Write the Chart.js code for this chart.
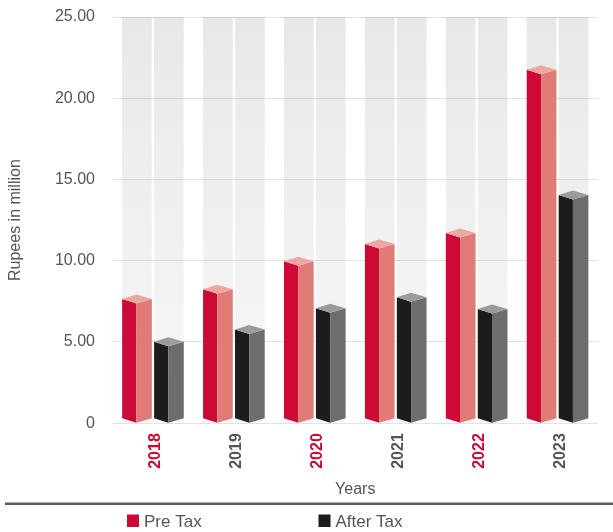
<!DOCTYPE html>
<html>
<head>
<meta charset="utf-8">
<script src="https://cdn.jsdelivr.net/npm/chart.js@4.4.0/dist/chart.umd.min.js"></script>
<style>
  html, body { margin: 0; padding: 0; background: #ffffff; }
  #wrap { width: 613px; height: 532px; position: relative; }
</style>
</head>
<body>
<div id="wrap"><canvas id="c"></canvas></div>
<script>
// ---- data ----
const years = ['2018', '2019', '2020', '2021', '2022', '2023'];
const preTax = [7.65, 8.24, 9.97, 11.03, 11.71, 21.75];
const afterTax = [5.02, 5.77, 7.07, 7.75, 7.03, 14.05];
const seriesNames = ['Pre Tax', 'After Tax'];
const yMin = 0, yMax = 25, yStep = 5;

const CRIMSON = '#cc0a35';
const GRAY_TEXT = '#555555';
const FONT = '"Liberation Sans", Arial, Helvetica, sans-serif';

Chart.defaults.font.family = FONT;
Chart.defaults.color = GRAY_TEXT;

function drawBox(ctx, x0, x1, yTop, base, d, cFront, cSide, cTop) {
  const xc = x0 + (x1 - x0) * 0.48;
  ctx.fillStyle = cFront;
  ctx.beginPath();
  ctx.moveTo(x0, yTop);
  ctx.lineTo(xc, yTop + d);
  ctx.lineTo(xc, base);
  ctx.lineTo(x0, base - d);
  ctx.closePath();
  ctx.fill();
  ctx.fillStyle = cSide;
  ctx.beginPath();
  ctx.moveTo(xc, yTop + d);
  ctx.lineTo(x1, yTop);
  ctx.lineTo(x1, base - d);
  ctx.lineTo(xc, base);
  ctx.closePath();
  ctx.fill();
  ctx.fillStyle = cTop;
  ctx.beginPath();
  ctx.moveTo(x0, yTop);
  ctx.lineTo(xc, yTop - d);
  ctx.lineTo(x1, yTop);
  ctx.lineTo(xc, yTop + d);
  ctx.closePath();
  ctx.fill();
}

const bars3d = {
  id: 'bars3d',
  beforeDraw(chart) {
    const { ctx, chartArea } = chart;
    ctx.save();
    chart.data.datasets.forEach((ds, i) => {
      const meta = chart.getDatasetMeta(i);
      meta.data.forEach(el => {
        const p = el.getProps(['x', 'width', 'base'], true);
        const g = ctx.createLinearGradient(0, chartArea.top, 0, p.base);
        g.addColorStop(0, '#e8e8e8');
        g.addColorStop(1, '#f8f8f8');
        ctx.fillStyle = g;
        ctx.fillRect(p.x - p.width / 2, chartArea.top, p.width, p.base - chartArea.top);
      });
    });
    ctx.restore();
  },
  afterDatasetsDraw(chart) {
    const { ctx } = chart;
    ctx.save();
    chart.data.datasets.forEach((ds, i) => {
      const meta = chart.getDatasetMeta(i);
      meta.data.forEach(el => {
        const p = el.getProps(['x', 'y', 'width', 'base'], true);
        drawBox(ctx, p.x - p.width / 2, p.x + p.width / 2, p.y, p.base, 4.5,
          ds.frontColor, ds.sideColor, ds.topColor);
      });
    });
    ctx.restore();
  },
  afterDraw(chart) {
    const { ctx, width } = chart;
    ctx.save();
    ctx.strokeStyle = '#5e5e5e';
    ctx.lineWidth = 2.5;
    ctx.beginPath();
    ctx.moveTo(5, 503.7);
    ctx.lineTo(width, 503.7);
    ctx.stroke();
    const xs = [127, 318.5];
    ctx.font = '17px ' + FONT;
    ctx.textBaseline = 'alphabetic';
    ctx.textAlign = 'left';
    chart.data.datasets.forEach((ds, i) => {
      ctx.fillStyle = ds.frontColor;
      ctx.fillRect(xs[i], 514.5, 12, 12.5);
      ctx.fillStyle = GRAY_TEXT;
      ctx.fillText(ds.label, xs[i] + 17, 527.3);
    });
    ctx.restore();
  }
};

new Chart(document.getElementById('c'), {
  type: 'bar',
  data: {
    labels: years,
    datasets: [
      {
        label: seriesNames[0],
        data: preTax,
        backgroundColor: 'rgba(0,0,0,0)',
        borderWidth: 0,
        frontColor: CRIMSON,
        sideColor: '#e07b76',
        topColor: '#eea6a0',
        categoryPercentage: 0.79,
        barPercentage: 0.928
      },
      {
        label: seriesNames[1],
        data: afterTax,
        backgroundColor: 'rgba(0,0,0,0)',
        borderWidth: 0,
        frontColor: '#1c1c1c',
        sideColor: '#6d6d6d',
        topColor: '#9b9b9b',
        categoryPercentage: 0.79,
        barPercentage: 0.928
      }
    ]
  },
  options: {
    responsive: true,
    maintainAspectRatio: false,
    animation: false,
    layout: { padding: { top: 17, right: 15, bottom: 29, left: 0 } },
    plugins: {
      legend: { display: false },
      tooltip: { enabled: false }
    },
    scales: {
      x: {
        grid: { display: false, drawTicks: false, tickLength: 0 },
        border: { display: false },
        afterFit: s => { s.height = 79.8; s.paddingLeft = 0; s.paddingRight = 0; },
        ticks: {
          autoSkip: false,
          minRotation: 90,
          maxRotation: 90,
          padding: 10,
          labelOffset: 3,
          font: { size: 16, weight: 'bold' },
          color: ctx => (ctx.index % 2 === 0 ? CRIMSON : GRAY_TEXT)
        },
        title: {
          display: true,
          text: 'Years',
          color: GRAY_TEXT,
          font: { size: 16, lineHeight: 1.2 },
          padding: { top: 11, bottom: 4 }
        }
      },
      y: {
        min: yMin,
        max: yMax,
        afterFit: s => { s.width = 112.5; s.paddingTop = 0; s.paddingBottom = 0; },
        grid: { color: 'rgba(0,0,0,0.11)', drawTicks: false, tickLength: 0, lineWidth: 1 },
        border: { display: false },
        ticks: {
          stepSize: yStep,
          padding: 17.5,
          font: { size: 16 },
          color: GRAY_TEXT,
          callback: v => (v === 0 ? '0' : Number(v).toFixed(2))
        },
        title: {
          display: true,
          text: 'Rupees in million',
          color: GRAY_TEXT,
          font: { size: 16, lineHeight: 1.2 },
          padding: { top: 6, bottom: 30 }
        }
      }
    }
  },
  plugins: [bars3d]
});
</script>
</body>
</html>
